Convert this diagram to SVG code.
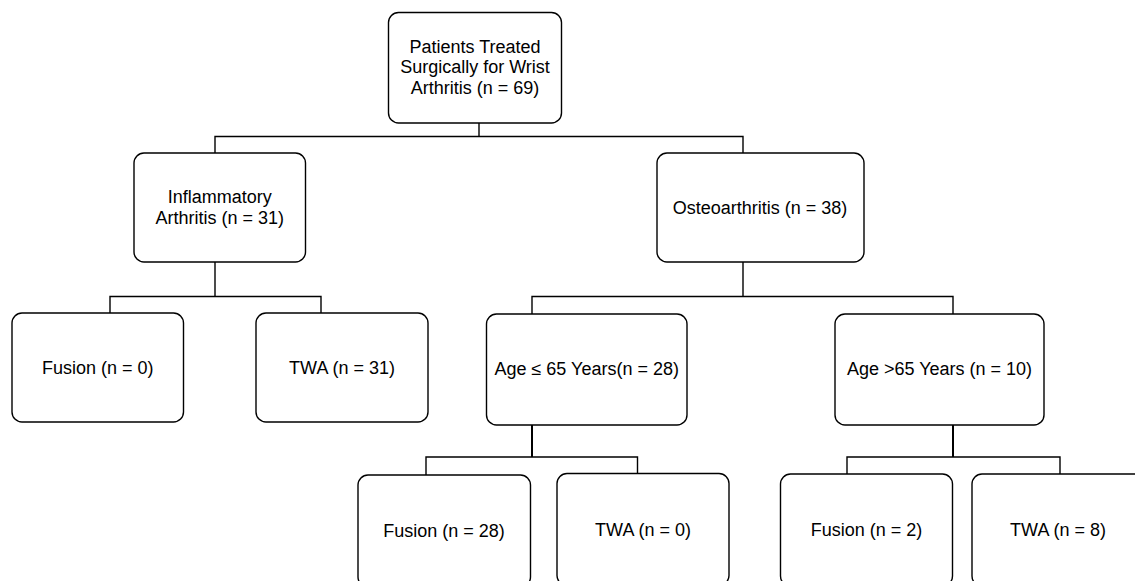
<svg xmlns="http://www.w3.org/2000/svg" width="1135" height="581" viewBox="0 0 1135 581">
<style>
.box{fill:#fff;stroke:#000;stroke-width:1.4}
.lbl{font-family:"Liberation Sans",Arial,sans-serif;font-size:18px;fill:#000;text-anchor:middle}
.con{fill:none;stroke:#000;stroke-width:1.4}
.thick{stroke-width:2}
</style>
<rect width="1135" height="581" fill="#fff"/>
<g id="connectors">
<path class="con" d="M479,123 V136.5 M215,153 V136.5 H743 V153"/>
<path class="con" d="M215,262 V296.5 M110,313 V296.5 H321 V313"/>
<path class="con" d="M743,262 V296.5 M532,314 V296.5 H953 V314"/>
<path class="con thick" d="M532,425 V457"/>
<path class="con" d="M426,475 V457 H637.5 V473.5"/>
<path class="con thick" d="M953,425 V457"/>
<path class="con" d="M847,474 V457 H1060 V474"/>
</g>
<g id="n-root">
<rect class="box" x="388.5" y="12.5" width="173" height="110.5" rx="10"/>
<text class="lbl" x="475" y="53">Patients Treated</text>
<text class="lbl" x="475" y="73.3">Surgically for Wrist</text>
<text class="lbl" x="475" y="93.6">Arthritis (n = 69)</text>
</g>
<g id="n-inflammatory">
<rect class="box" x="134" y="153" width="171.5" height="109" rx="10"/>
<text class="lbl" x="219.7" y="203.3">Inflammatory</text>
<text class="lbl" x="219.7" y="224">Arthritis (n = 31)</text>
</g>
<g id="n-osteo">
<rect class="box" x="657" y="153" width="207" height="109" rx="10"/>
<text class="lbl" x="760" y="213.5">Osteoarthritis (n = 38)</text>
</g>
<g id="n-ia-fusion">
<rect class="box" x="12" y="313" width="171.5" height="109" rx="10"/>
<text class="lbl" x="97.7" y="373.5">Fusion (n = 0)</text>
</g>
<g id="n-ia-twa">
<rect class="box" x="256" y="313" width="172" height="109" rx="10"/>
<text class="lbl" x="342" y="373.5">TWA (n = 31)</text>
</g>
<g id="n-age-le65">
<rect class="box" x="486.5" y="314" width="200.5" height="111" rx="10"/>
<text class="lbl" x="586.7" y="375">Age ≤ 65 Years(n = 28)</text>
</g>
<g id="n-age-gt65">
<rect class="box" x="835" y="314" width="209" height="111" rx="10"/>
<text class="lbl" x="939.5" y="375">Age &gt;65 Years (n = 10)</text>
</g>
<g id="n-le65-fusion">
<rect class="box" x="358" y="475" width="172.5" height="112" rx="10"/>
<text class="lbl" x="444" y="536.5">Fusion (n = 28)</text>
</g>
<g id="n-le65-twa">
<rect class="box" x="557" y="473.5" width="172" height="112" rx="10"/>
<text class="lbl" x="643" y="536">TWA (n = 0)</text>
</g>
<g id="n-gt65-fusion">
<rect class="box" x="780.5" y="474" width="172" height="112" rx="10"/>
<text class="lbl" x="866.5" y="535.5">Fusion (n = 2)</text>
</g>
<g id="n-gt65-twa">
<rect class="box" x="972" y="474" width="172" height="112" rx="10"/>
<text class="lbl" x="1058" y="535.5">TWA (n = 8)</text>
</g>
</svg>
